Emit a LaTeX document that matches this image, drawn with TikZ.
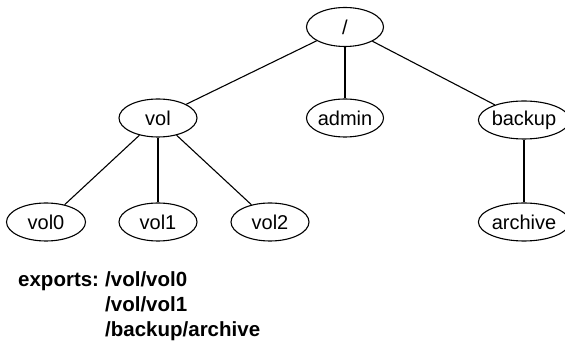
\documentclass[tikz,border=0pt]{standalone}
\usepackage{fontspec}
\setmainfont{Liberation Sans}
\usetikzlibrary{shapes.geometric}
\begin{document}
\begin{tikzpicture}[x=1pt,y=-1pt,
  dirnode/.style={draw, ellipse, line width=1.1pt, inner sep=0pt, minimum height=38pt, font=\fontsize{20}{24}\selectfont},
  edge/.style={line width=1.1pt},
  exptext/.style={anchor=base west, inner sep=0pt, font=\bfseries\fontsize{20.5}{24}\selectfont}]
\useasboundingbox (0,0) rectangle (565,344);
\node[dirnode, minimum width=77pt, minimum height=39pt] (root) at (345,27) {/};
\node[dirnode, minimum width=78pt] (vol) at (158,118) {vol};
\node[dirnode, minimum width=77pt] (admin) at (345,118) {admin};
\node[dirnode, minimum width=73pt] (backup) at (524,120) {backup};
\node[dirnode, minimum width=79pt] (vol0) at (46,222) {vol0};
\node[dirnode, minimum width=78pt] (vol1) at (158,222) {vol1};
\node[dirnode, minimum width=78pt] (vol2) at (270,222) {vol2};
\node[dirnode, minimum width=74pt] (archive) at (524,222) {archive};
\draw[edge] (root) -- (vol);
\draw[edge] (root) -- (admin);
\draw[edge] (root) -- (backup);
\draw[edge] (vol) -- (vol0);
\draw[edge] (vol) -- (vol1);
\draw[edge] (vol) -- (vol2);
\draw[edge] (backup) -- (archive);
\node[exptext] (exports) at (18,287) {exports:};
\node[exptext] (p1) at (105,287) {/vol/vol0};
\node[exptext] (p2) at (105,312) {/vol/vol1};
\node[exptext] (p3) at (105,337) {/backup/archive};
\end{tikzpicture}
\end{document}
